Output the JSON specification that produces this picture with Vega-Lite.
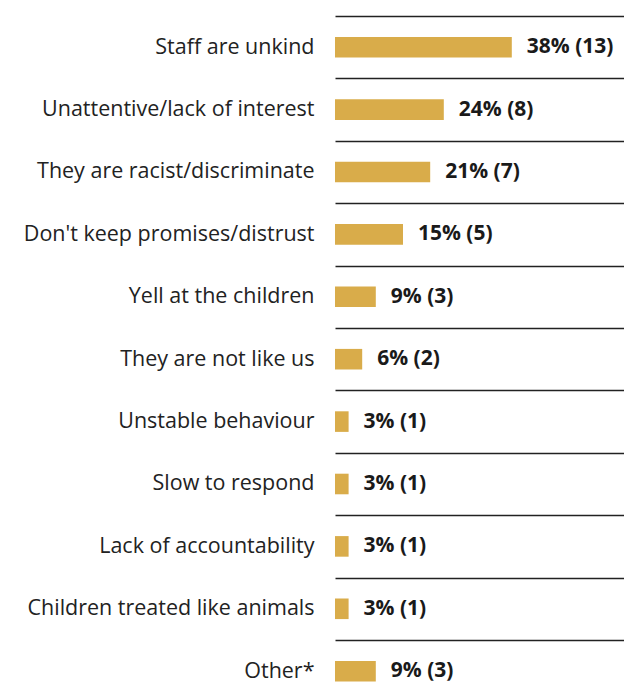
{
  "$schema": "https://vega.github.io/schema/vega-lite/v6.json",
  "autosize": "none",
  "padding": {"left": 335, "top": 16, "right": 0, "bottom": 0},
  "width": 289,
  "height": {"step": 62.4},
  "background": "white",
  "config": {"view": {"stroke": null}, "font": "Open Sans"},
  "data": {"values": [
    {"reason": "Staff are unkind", "count": 13, "label": "38% (13)"},
    {"reason": "Unattentive/lack of interest", "count": 8, "label": "24% (8)"},
    {"reason": "They are racist/discriminate", "count": 7, "label": "21% (7)"},
    {"reason": "Don't keep promises/distrust", "count": 5, "label": "15% (5)"},
    {"reason": "Yell at the children", "count": 3, "label": "9% (3)"},
    {"reason": "They are not like us", "count": 2, "label": "6% (2)"},
    {"reason": "Unstable behaviour", "count": 1, "label": "3% (1)"},
    {"reason": "Slow to respond", "count": 1, "label": "3% (1)"},
    {"reason": "Lack of accountability", "count": 1, "label": "3% (1)"},
    {"reason": "Children treated like animals", "count": 1, "label": "3% (1)"},
    {"reason": "Other*", "count": 3, "label": "9% (3)"}
  ]},
  "encoding": {
    "y": {"field": "reason", "type": "nominal", "sort": null,
      "scale": {"paddingInner": 0, "paddingOuter": 0},
      "axis": {"title": null, "domain": false, "ticks": false, "grid": true, "tickBand": "extent",
        "gridColor": "#222", "gridWidth": 1.5, "gridOpacity": 1,
        "labelFontSize": 21.5, "labelColor": "#222", "labelPadding": 21, "labelFont": "Open Sans", "labelLimit": 340}},
    "x": {"field": "count", "type": "quantitative", "scale": {"domain": [0, 21.25]}, "axis": null}
  },
  "layer": [
    {"mark": {"type": "bar", "color": "#D9AC4A", "height": {"band": 0.33}}},
    {"mark": {"type": "text", "align": "left", "baseline": "middle", "dx": 15, "fontSize": 21, "fontWeight": "bold", "color": "#1a1a1a", "font": "Open Sans"},
     "encoding": {"text": {"field": "label"}}}
  ]
}
